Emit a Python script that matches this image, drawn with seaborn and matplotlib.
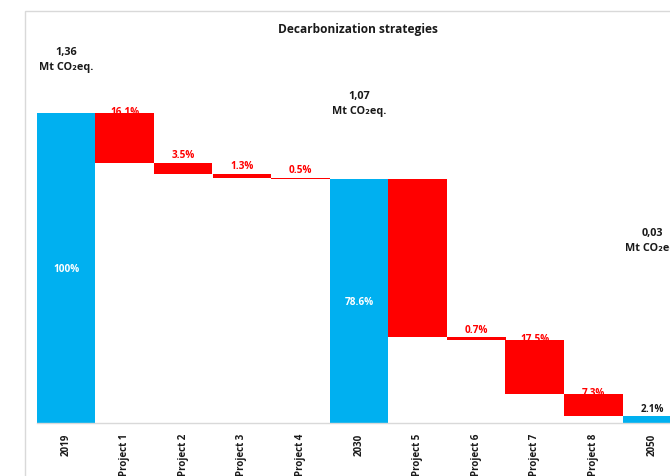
import matplotlib
matplotlib.use("Agg")
import matplotlib.pyplot as plt
import seaborn as sns
import pandas as pd
from matplotlib.patches import Rectangle

# ---- data ----
categories = ["2019", "Project 1", "Project 2", "Project 3", "Project 4", "2030",
              "Project 5", "Project 6", "Project 7", "Project 8", "2050"]
values = [100.0, 16.1, 3.5, 1.3, 0.5, 78.6, 51.0, 0.7, 17.5, 7.3, 2.1]
kinds = ["total", "step", "step", "step", "step", "total",
         "step", "step", "step", "step", "total"]
value_labels = ["100%", "16.1%", "3.5%", "1.3%", "0.5%", "78.6%",
                "", "0.7%", "17.5%", "7.3%", "2.1%"]
total_names = ["2019", "2030", "2050"]
total_emissions = ["1,36", "1,07", "0,03"]
title = "Decarbonization strategies"

BLUE = "#00B0F0"
RED = "#FF0000"

sns.set_style("white")
plt.rcParams["font.family"] = ["Open Sans", "DejaVu Sans"]
plt.rcParams["font.weight"] = "bold"

# waterfall bottoms
bottoms = []
level = 0.0
for v, k in zip(values, kinds):
    if k == "total":
        bottoms.append(0.0)
        level = v
    else:
        level -= v
        bottoms.append(level)

df = pd.DataFrame({"category": categories, "value": values, "kind": kinds})
palette = {c: (BLUE if k == "total" else RED) for c, k in zip(categories, kinds)}

W, H = 670, 477
fig = plt.figure(figsize=(W / 100, H / 100), dpi=100)
# chart-area border (Excel style)
fig.patches.append(Rectangle((25 / W, -0.1), 1.2, (H - 12) / H + 0.1,
                             transform=fig.transFigure, fill=False,
                             ec="#D9D9D9", lw=1.0))

ax = fig.add_axes([36.7 / W, 53 / H, 644.6 / W, 412 / H])
sns.barplot(data=df, x="category", y="value", hue="category", palette=palette,
            order=categories, hue_order=categories, width=1.0, saturation=1,
            legend=False, ax=ax, linewidth=0, zorder=3)

for p in ax.patches:
    idx = int(round(p.get_x() + p.get_width() / 2))
    p.set_y(bottoms[idx])

ax.set_xlim(-0.5, len(categories) - 0.5)
ax.set_ylim(0, (424 - 12) / 3.1)
ax.set_xlabel("")
ax.set_ylabel("")
ax.set_yticks([])
for s in ["left", "right", "top"]:
    ax.spines[s].set_visible(False)
ax.spines["bottom"].set_color("#D9D9D9")
ax.spines["bottom"].set_linewidth(1.0)
ax.spines["bottom"].set_zorder(4)
ax.tick_params(axis="x", length=0, pad=7)
ax.set_xticks(range(len(categories)))
ax.set_xticklabels(categories, rotation=90, fontsize=7, fontweight="bold",
                   va="top", ha="center", color="#1a1a1a")

# value labels
for i, (v, k, lab) in enumerate(zip(values, kinds, value_labels)):
    if not lab:
        continue
    top = bottoms[i] + v
    if k == "total" and v > 5:
        ax.text(i, bottoms[i] + v / 2, lab, color="white", fontsize=7.2,
                fontweight="bold", ha="center", va="center", zorder=5)
    elif v < 5:
        ax.annotate(lab, (i, top), xytext=(0, 2.0), textcoords="offset points",
                    color=("#1a1a1a" if k == "total" else RED), fontsize=7.2,
                    fontweight="bold", ha="center", va="bottom", zorder=5)
    else:
        ax.annotate(lab, (i, top), xytext=(0, 1), textcoords="offset points",
                    color=RED, fontsize=7.2, fontweight="bold",
                    ha="center", va="center", zorder=1)

# totals in Mt CO2eq
ann_y_px = [60, 104, 241]
for name, txt, ypx in zip(total_names, total_emissions, ann_y_px):
    i = categories.index(name)
    ax.text(i, (424 - ypx) / 3.1, f"{txt}\nMt CO\u2082eq.", fontsize=7.8,
            fontweight="bold", ha="center", va="center", linespacing=1.4,
            color="#1a1a1a", clip_on=False, zorder=6)

fig.text(358 / W, 1 - 30 / H, title, fontsize=8.6, fontweight="bold",
         ha="center", va="center", color="#1a1a1a")

fig.savefig("out.png", dpi=100)
